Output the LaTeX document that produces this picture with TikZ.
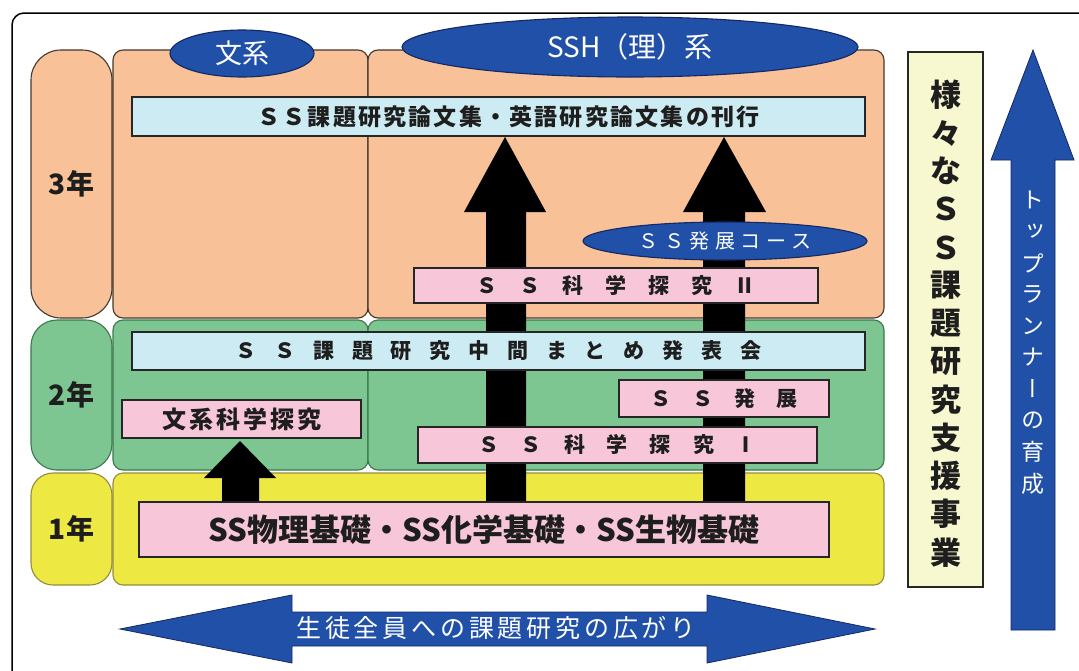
\documentclass[tikz,border=0pt]{standalone}
\usepackage{fontspec}
\setmainfont{Noto Sans CJK JP}
\newfontfamily\jpv[RawFeature=+vert]{Noto Sans CJK JP}
\usetikzlibrary{shapes.geometric}
\definecolor{orangeF}{RGB}{249,193,152}
\definecolor{greenF}{RGB}{125,198,145}
\definecolor{yellowF}{RGB}{238,233,66}
\definecolor{lblue}{RGB}{205,235,242}
\definecolor{pinkF}{RGB}{247,198,217}
\definecolor{blueF}{RGB}{33,80,168}
\definecolor{blueD}{RGB}{20,40,100}
\definecolor{colY}{RGB}{248,248,208}
\definecolor{cellB}{RGB}{70,55,45}
\definecolor{greenB}{RGB}{60,120,80}
\definecolor{yellowB}{RGB}{150,140,60}
\definecolor{txt}{RGB}{30,30,30}
\makeatletter
\let\sp@end\relax
\def\spc#1#2{\def\sp@gap{#1}\sp@a#2\sp@end}
\def\sp@a#1{#1\sp@b}
\def\sp@b#1{\ifx#1\sp@end\else\hspace{\sp@gap}#1\expandafter\sp@b\fi}
\makeatother
\newcommand\fs[1]{\fontsize{#1pt}{#1pt}\selectfont\bfseries}
\begin{document}
\begin{tikzpicture}[x=1pt,y=-1pt,
  cell/.style={draw=cellB, line width=1.1pt, rounded corners=10pt, inner sep=0pt},
  yearcell/.style={draw=cellB, line width=1.1pt, rounded corners=30pt, inner sep=0pt, text=txt, font=\fs{28}},
  box/.style={draw=black!85, line width=1.6pt, inner sep=0pt, text=txt},
  oval/.style={ellipse, draw=blueD, fill=blueF, line width=1.1pt, text=white, inner sep=0pt},
  blackarrow/.style={fill=black},
  bluearrow/.style={fill=blueF, draw=blueD, line width=0.8pt},
  coltext/.style={text=txt, font=\fs{31}, inner sep=0pt},
  arrtext/.style={text=white, font=\jpv\fontsize{23pt}{23pt}\selectfont, inner sep=0pt}]
\useasboundingbox (0,0) rectangle (1079,670);
\fill[white] (0,0) rectangle (1079,670);
% outer frame
\draw[line width=1.5pt, rounded corners=12pt] (12,13) rectangle (1110,700);
% year column
\node[yearcell, fill=orangeF, minimum width=81pt, minimum height=268pt] (y3) at (71.5,184) {3年};
\node[yearcell, fill=greenF, draw=greenB, rounded corners=26pt, minimum width=81pt, minimum height=150pt] (y2) at (71.5,395) {2年};
\node[yearcell, fill=yellowF, draw=yellowB, rounded corners=22pt, minimum width=81pt, minimum height=112pt] (y1) at (71.5,529) {1年};
% cells
\node[cell, fill=orangeF, minimum width=255pt, minimum height=268pt] (o1) at (240.5,184) {};
\node[cell, fill=orangeF, minimum width=516pt, minimum height=268pt] (o2) at (626,184) {};
\node[cell, fill=greenF, draw=greenB, minimum width=255pt, minimum height=150pt] (g1) at (240.5,395) {};
\node[cell, fill=greenF, draw=greenB, minimum width=516pt, minimum height=150pt] (g2) at (626,395) {};
\node[cell, fill=yellowF, draw=yellowB, minimum width=771pt, minimum height=112pt] (yl) at (498.5,529) {};
% ovals on top
\node[oval, minimum width=144pt, minimum height=47pt, font=\fontsize{27pt}{27pt}\selectfont] (bunkei) at (242,53.5) {文系};
\node[oval, minimum width=456pt, minimum height=60pt, font=\fontsize{28pt}{28pt}\selectfont] (ssh) at (630,47) {SSH（理）系};
% black arrows (under the boxes)
\coordinate (a1t) at (505,137);
\coordinate (a2t) at (724,137);
\coordinate (a3t) at (240,441);
\fill[blackarrow] (486,503) -- (486,212) -- (464,212) -- (a1t) -- (546,212) -- (526,212) -- (526,503) -- cycle;
\fill[blackarrow] (703,503) -- (703,212) -- (683,212) -- (a2t) -- (766,212) -- (745,212) -- (745,503) -- cycle;
\fill[blackarrow] (222,503) -- (222,478) -- (204,478) -- (a3t) -- (276,478) -- (259,478) -- (259,503) -- cycle;
% boxes
\node[box, fill=lblue, minimum width=733pt, minimum height=39pt, font=\fs{23}] (pub) at (498.5,116.5) {\hspace{20pt}\spc{2.2pt}{ＳＳ課題研究論文集・英語研究論文集の刊行}};
\node[oval, minimum width=284pt, minimum height=38pt, font=\fontsize{20pt}{20pt}\selectfont] (course) at (725,241) {\spc{5.5pt}{ＳＳ発展コース}};
\node[box, fill=pinkF, minimum width=404pt, minimum height=35pt, font=\fs{21}] (ss2) at (616,285.5) {\spc{22pt}{ＳＳ科学探究Ⅱ}};
\node[box, fill=lblue, minimum width=733pt, minimum height=38pt, font=\fs{21}] (mid) at (498.5,351) {\spc{17.8pt}{ＳＳ課題研究中間まとめ発表会}};
\node[box, fill=pinkF, minimum width=210pt, minimum height=37pt, font=\fs{21}] (hatten) at (724,398.5) {\spc{20.7pt}{ＳＳ発展}};
\node[box, fill=pinkF, minimum width=239pt, minimum height=38pt, font=\fs{24}] (bk) at (241.5,419) {\spc{3pt}{文系科学探究}};
\node[box, fill=pinkF, minimum width=399pt, minimum height=36pt, font=\fs{21}] (ss1) at (617.5,445) {\spc{22pt}{ＳＳ科学探究Ⅰ}};
\node[box, fill=pinkF, minimum width=690pt, minimum height=55pt, font=\fs{31}] (base) at (484,529.5) {SS物理基礎・SS化学基礎・SS生物基礎};
% right column
\node[box, fill=colY, line width=1.3pt, minimum width=75pt, minimum height=535pt] (col) at (945.5,319.5) {};
\foreach \c [count=\i from 0] in {様,々,な,Ｓ,Ｓ,課,題,研,究,支,援,事,業}
  \node[coltext] (c\i) at (946,95+38.1*\i) {\c};
% blue up arrow
\coordinate (upt) at (1033,50);
\filldraw[bluearrow] (1011,630) -- (1011,160) -- (991,160) -- (upt) -- (1074,160) -- (1055,160) -- (1055,630) -- cycle;
\foreach \c [count=\i from 0] in {ト,ッ,プ,ラ,ン,ナ,ー,の,育,成}
  \node[arrtext] (t\i) at (1033,200+31.5*\i) {\c};
% bottom double arrow
\coordinate (lt) at (120,629);
\coordinate (rt) at (875,629);
\filldraw[bluearrow] (lt) -- (292,595) -- (292,612) -- (707,612) -- (707,595) -- (rt) -- (707,663) -- (707,646) -- (292,646) -- (292,663) -- cycle;
\node[text=white, font=\fontsize{25pt}{25pt}\selectfont, inner sep=0pt] (spread) at (496,628) {\spc{3.8pt}{生徒全員への課題研究の広がり}};
\end{tikzpicture}
\end{document}
